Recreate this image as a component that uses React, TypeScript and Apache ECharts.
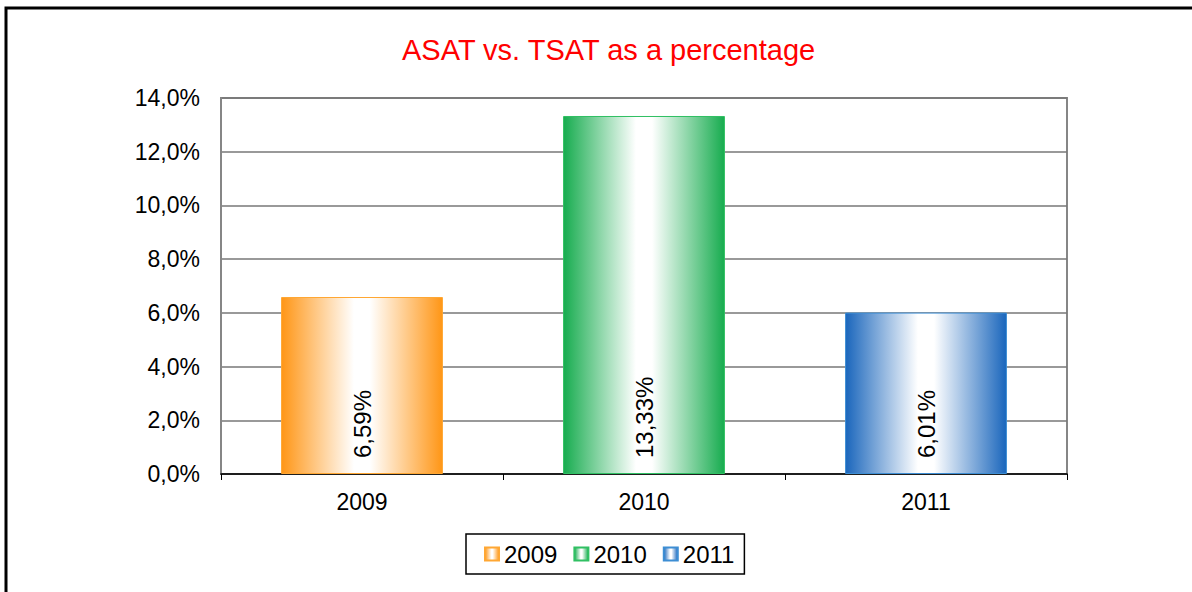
import React, { useEffect, useRef } from "react";
import * as echarts from "echarts";

const categories = ["2009", "2010", "2011"];
const values = [6.59, 13.33, 6.01];
const yTicks = [0, 2, 4, 6, 8, 10, 12, 14];
const edgeColors = ["#FF9616", "#17AC4F", "#1A66BC"];
const borderColors = ["#FFA733", "#30C063", "#3D8ED4"];
const titleText = "ASAT vs. TSAT as a percentage";

const fmt = (v: number, d: number) => v.toFixed(d).replace(".", ",");

export default function App() {
  const ref = useRef<HTMLDivElement>(null);
  useEffect(() => {
    if (!ref.current) return;
    const chart = echarts.init(ref.current, undefined, { renderer: "svg" });
    const grad = (c: string) =>
      new echarts.graphic.LinearGradient(0, 0, 1, 0, [
        { offset: 0, color: c },
        { offset: 0.45, color: "#FFFFFF" },
        { offset: 0.55, color: "#FFFFFF" },
        { offset: 1, color: c },
      ]);
    const series = categories.map((name, i) => ({
      type: "bar" as const,
      name,
      barWidth: "57.4%",
      barGap: "-100%",
      data: categories.map((_, j) => (j === i ? values[i] : "-")),
      itemStyle: {
        color: grad(edgeColors[i]),
        borderColor: borderColors[i],
        borderWidth: 1,
      },
      label: {
        show: true,
        position: "insideBottom",
        rotate: 90,
        align: "left",
        verticalAlign: "middle",
        distance: 16,
        fontFamily: "Arial, 'Liberation Sans'",
        fontSize: 24,
        color: "#000",
        formatter: (p: any) => fmt(p.value, 2) + "%",
      },
    }));
    chart.setOption({
      animation: false,
      backgroundColor: "#fff",
      title: {
        text: titleText,
        left: 397,
        top: 30,
        textStyle: {
          fontFamily: "Arial, 'Liberation Sans'",
          fontSize: 29,
          fontWeight: "normal",
          color: "#FF0000",
        },
      },
      legend: {
        left: 466,
        top: 534,
        data: categories,
        icon: "rect",
        itemWidth: 14,
        itemHeight: 13,
        itemGap: 16,
        padding: [8, 10, 8, 18],
        borderColor: "#000",
        borderWidth: 1.5,
        textStyle: {
          fontFamily: "Arial, 'Liberation Sans'",
          fontSize: 24,
          color: "#000",
        },
      },
      grid: {
        left: 221,
        top: 98,
        right: 125,
        bottom: 118,
        show: true,
        borderColor: "#868686",
        borderWidth: 2,
      },
      xAxis: {
        type: "category",
        data: categories,
        axisLine: { lineStyle: { color: "#000", width: 1.5 } },
        axisTick: { show: true, length: 6, lineStyle: { color: "#000", width: 1 } },
        axisLabel: {
          margin: 16,
          fontFamily: "Arial, 'Liberation Sans'",
          fontSize: 23,
          color: "#000",
        },
      },
      yAxis: {
        type: "value",
        min: yTicks[0],
        max: yTicks[yTicks.length - 1],
        interval: 2,
        axisLine: { show: true, lineStyle: { color: "#868686", width: 2 } },
        axisTick: { show: false },
        splitLine: { lineStyle: { color: "#777777", width: 1.5 } },
        axisLabel: {
          margin: 21,
          fontFamily: "Arial, 'Liberation Sans'",
          fontSize: 23,
          color: "#000",
          formatter: (v: number) => fmt(v, 1) + "%",
        },
      },
      graphic: [
        {
          type: "rect",
          shape: { x: 6, y: 8, width: 1300, height: 800 },
          style: { fill: "none", stroke: "#000", lineWidth: 3 },
          silent: true,
        },
      ],
      series,
    });
    return () => chart.dispose();
  }, []);
  return (
    <div style={{ position: "absolute", left: 0, top: 0, width: 1192, height: 592 }}>
      <div ref={ref} style={{ width: 1192, height: 592 }} />
    </div>
  );
}
